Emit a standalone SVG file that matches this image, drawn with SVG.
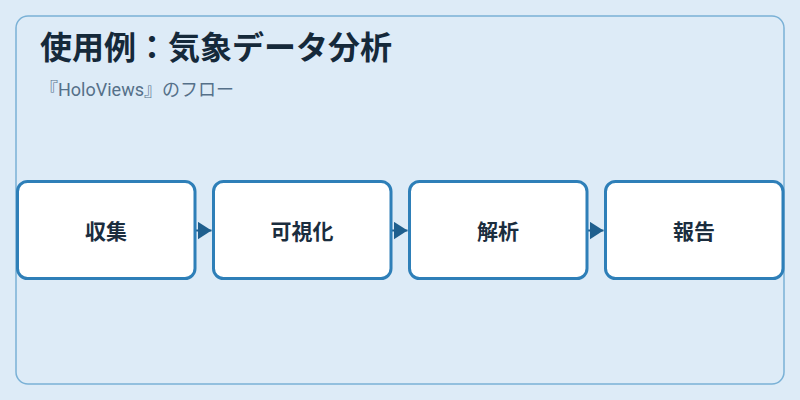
<svg xmlns="http://www.w3.org/2000/svg" width="800" height="400" viewBox="0 0 800 400">
<defs>
<style>
.bg{fill:#ddebf7}
.frame{fill:#ddebf7;stroke:#7ab1d6;stroke-width:1.5}
.node rect{fill:#ffffff;stroke:#2e7fb8;stroke-width:3}
.node text{font-family:"Noto Sans CJK JP","Noto Sans",sans-serif;font-weight:bold;font-size:21px;fill:#1b2d3e;text-anchor:middle}
.title{font-family:"Noto Sans CJK JP","Noto Sans",sans-serif;font-weight:bold;font-size:32px;fill:#15293a}
.sub{font-family:"Roboto","Noto Sans CJK JP",sans-serif;font-size:18px;fill:#557089}
.conn line{stroke:#1f5f8e;stroke-width:2}
</style>
<marker id="arr" viewBox="0 0 14 18" refX="14" refY="9" markerWidth="14" markerHeight="18" markerUnits="userSpaceOnUse" orient="auto">
<path d="M0,0 L14,9 L0,18 Z" fill="#1f5f8e"/>
</marker>
</defs>
<rect class="bg" x="0" y="0" width="800" height="400"/>
<rect class="frame" x="16" y="16" width="768" height="368" rx="12"/>
<text class="title" x="40" y="59">使用例：気象データ分析</text>
<text class="sub" x="40" y="96">『HoloViews』のフロー</text>
<g id="connectors" class="conn">
<line x1="196" y1="230.5" x2="211.5" y2="230.5" marker-end="url(#arr)"/>
<line x1="392" y1="230.5" x2="407.5" y2="230.5" marker-end="url(#arr)"/>
<line x1="588" y1="230.5" x2="603.5" y2="230.5" marker-end="url(#arr)"/>
</g>
<g id="node-collect" class="node">
<rect x="17.5" y="181.5" width="177.5" height="97" rx="10"/>
<text x="106" y="239">収集</text>
</g>
<g id="node-visualize" class="node">
<rect x="213.5" y="181.5" width="177.5" height="97" rx="10"/>
<text x="302" y="239">可視化</text>
</g>
<g id="node-analyze" class="node">
<rect x="409.5" y="181.5" width="177.5" height="97" rx="10"/>
<text x="498" y="239">解析</text>
</g>
<g id="node-report" class="node">
<rect x="605.5" y="181.5" width="177.5" height="97" rx="10"/>
<text x="694" y="239">報告</text>
</g>
</svg>
